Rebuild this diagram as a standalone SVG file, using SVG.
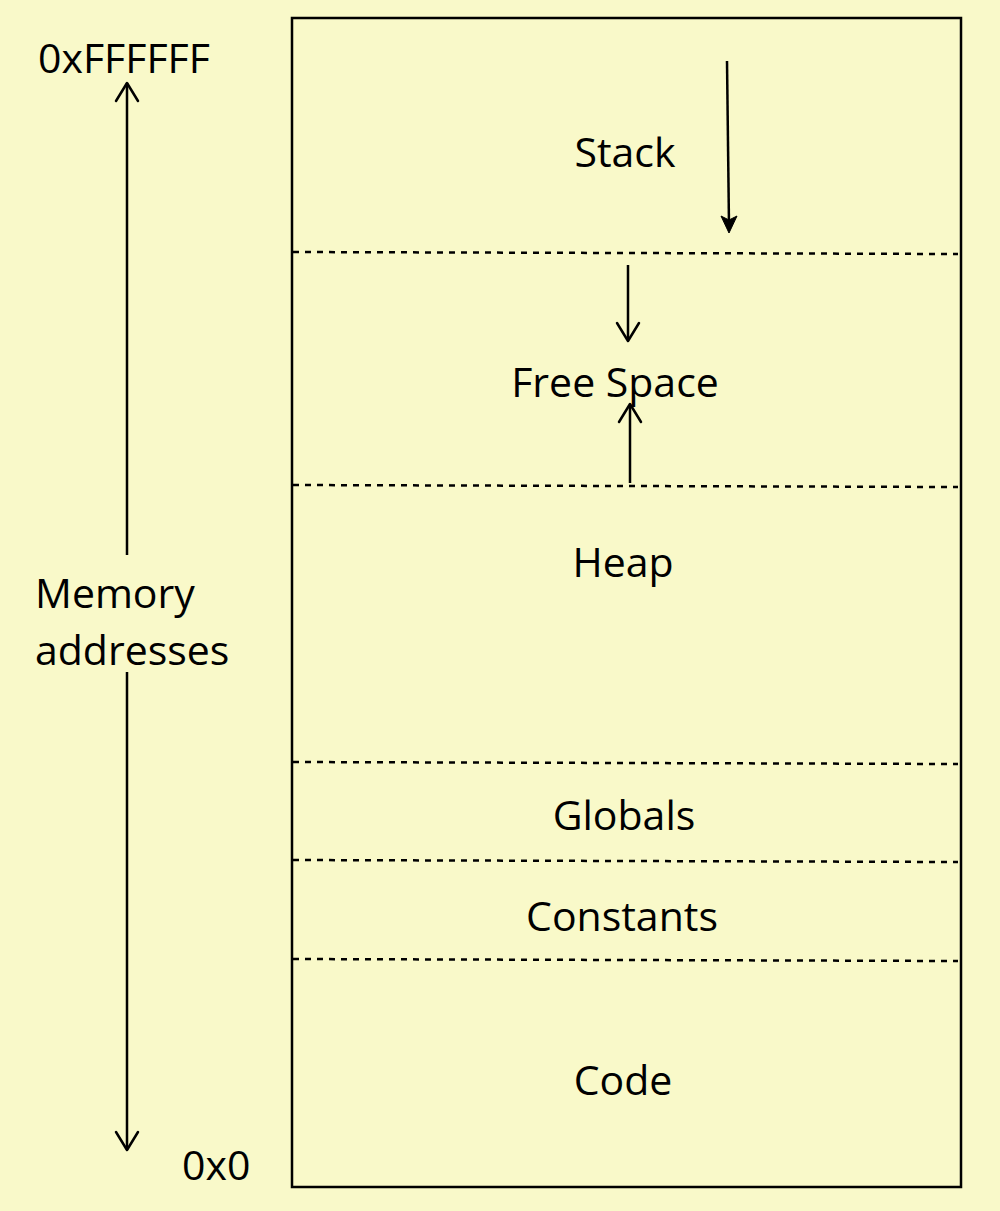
<svg xmlns="http://www.w3.org/2000/svg" width="1000" height="1211" viewBox="0 0 1000 1211">
<style>
text{font-family:"Open Sans","Liberation Sans",sans-serif;font-size:41px;fill:#000}
.c{text-anchor:middle}
.dash{stroke:#000;stroke-width:2.5;stroke-dasharray:6 6;fill:none}
.ln{stroke:#000;stroke-width:2.5;fill:none}
.open{stroke:#000;stroke-width:2.5;fill:none;stroke-linecap:round;stroke-linejoin:round}
</style>
<rect width="1000" height="1211" fill="#F9F9C9"/>
<g id="memory-box"><rect x="292" y="18" width="669" height="1169" fill="none" stroke="#000" stroke-width="2.5"/></g>
<g id="dividers">
<line class="dash" x1="293" y1="252" x2="958" y2="254"/>
<line class="dash" x1="293" y1="485" x2="958" y2="487"/>
<line class="dash" x1="293" y1="762" x2="958" y2="764"/>
<line class="dash" x1="293" y1="860" x2="958" y2="862"/>
<line class="dash" x1="293" y1="959" x2="958" y2="961"/>
</g>
<g id="stack"><text class="c" x="625" y="167">Stack</text></g>
<g id="free-space"><text class="c" x="615" y="397">Free Space</text></g>
<g id="heap"><text class="c" x="623" y="577">Heap</text></g>
<g id="globals"><text class="c" x="624" y="830">Globals</text></g>
<g id="constants"><text class="c" x="622" y="931">Constants</text></g>
<g id="code"><text class="c" x="623" y="1095">Code</text></g>
<g id="labels">
<text x="38" y="73">0xFFFFFF</text>
<text x="35" y="608">Memory</text>
<text x="35" y="665">addresses</text>
<text x="182" y="1180">0x0</text>
</g>
<g id="connectors">
<line class="ln" x1="727" y1="61" x2="729" y2="226"/>
<path d="M729 233 L721 216 L729 220 L737 216 Z" fill="#000" stroke="#000" stroke-width="1"/>
<line class="ln" x1="628" y1="265" x2="628" y2="340"/>
<path class="open" d="M617 323 L628 341 L639 323"/>
<line class="ln" x1="630" y1="483" x2="630" y2="405"/>
<path class="open" d="M619 422 L630 404 L641 422"/>
<line class="ln" x1="127" y1="555" x2="127" y2="83"/>
<path class="open" d="M116 101 L127 83 L138 101"/>
<line class="ln" x1="127" y1="672" x2="127" y2="1150"/>
<path class="open" d="M116 1132 L127 1150 L138 1132"/>
</g>
</svg>
